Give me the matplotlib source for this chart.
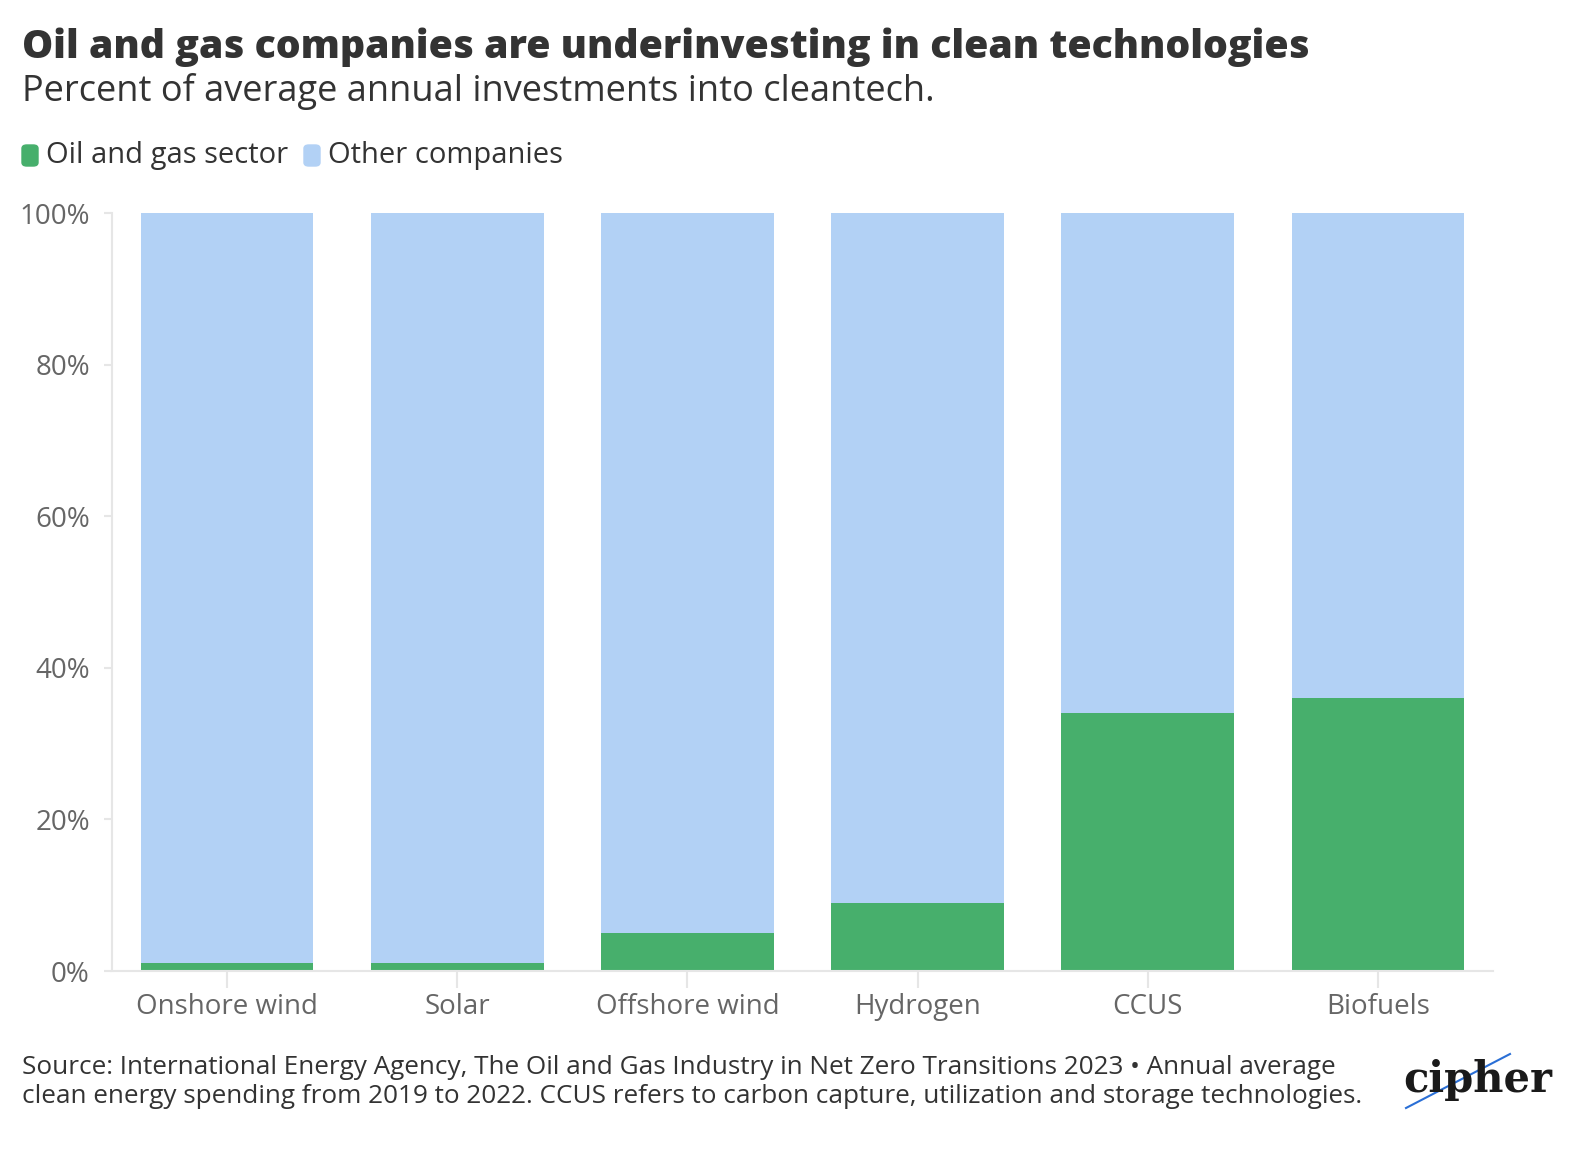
import matplotlib.pyplot as plt
from matplotlib.ticker import FuncFormatter
from matplotlib.lines import Line2D
from matplotlib.patches import FancyBboxPatch

# data
categories = ["Onshore wind", "Solar", "Offshore wind", "Hydrogen", "CCUS", "Biofuels"]
oil_gas = [1, 1, 5, 9, 34, 36]
other = [100 - v for v in oil_gas]

green = "#47AF6C"
blue = "#B2D1F5"
grey_txt = "#666666"
axis_col = "#E6E6E6"

plt.rcParams['font.family'] = ['Open Sans', 'DejaVu Sans']

fig = plt.figure(figsize=(15.92, 11.5), dpi=100)
ax = fig.add_axes([112 / 1592, 1 - 971 / 1150, (1493 - 112) / 1592, (971 - 213) / 1150])

x = range(len(categories))
ax.bar(x, oil_gas, width=0.75, color=green, label="Oil and gas sector")
ax.bar(x, other, bottom=oil_gas, width=0.75, color=blue, label="Other companies")

ax.set_xlim(-0.5, 5.5)
ax.set_ylim(0, 100)
ax.set_yticks([0, 20, 40, 60, 80, 100])
ax.yaxis.set_major_formatter(FuncFormatter(lambda v, p: f"{v:.0f}%"))
ax.set_xticks(list(x))
ax.set_xticklabels(categories)

for s in ["top", "right"]:
    ax.spines[s].set_visible(False)
for s in ["left", "bottom"]:
    ax.spines[s].set_color(axis_col)
    ax.spines[s].set_linewidth(1.5)
ax.tick_params(axis="both", colors=axis_col, labelcolor=grey_txt, labelsize=20)
ax.tick_params(axis="x", length=12, width=1.5, pad=4)
ax.tick_params(axis="y", length=6, width=1.5, pad=10)

# title and subtitle
fig.text(22 / 1592, 1 - 47 / 1150, "Oil and gas companies are underinvesting in clean technologies",
         fontsize=28.3, fontweight="heavy", color="#333333", va="center", ha="left")
fig.text(22 / 1592, 1 - 92 / 1150, "Percent of average annual investments into cleantech.",
         fontsize=26, color="#333333", va="center", ha="left")

# legend
legend_items = [("Oil and gas sector", green, 22), ("Other companies", blue, 304)]
for label, col, px in legend_items:
    fig.patches.append(FancyBboxPatch((px / 1592, 1 - 166 / 1150), 16 / 1592, 21 / 1150,
                                      boxstyle="round,pad=0,rounding_size=0.003",
                                      transform=fig.transFigure, color=col))
    fig.text((px + 24) / 1592, 1 - 156 / 1150, label, fontsize=21, color="#333333",
             va="center", ha="left")

# source note
fig.text(22 / 1592, 1 - 1082 / 1150,
         "Source: International Energy Agency, The Oil and Gas Industry in Net Zero Transitions 2023 \u2022 Annual average\n"
         "clean energy spending from 2019 to 2022. CCUS refers to carbon capture, utilization and storage technologies.",
         fontsize=18.8, color="#333333", va="center", ha="left", linespacing=1.25)

# logo
fig.text(1478 / 1592, 1 - 1080 / 1150, "cipher", fontsize=30, fontweight="bold",
         family="DejaVu Serif", color="#1a1a1a", va="center", ha="center")
fig.lines.append(Line2D([1406 / 1592, 1510 / 1592], [1 - 1108 / 1150, 1 - 1054 / 1150],
                        transform=fig.transFigure, color="#2a6fd6", linewidth=1.5))

fig.savefig("out.png", dpi=100, facecolor="white")
